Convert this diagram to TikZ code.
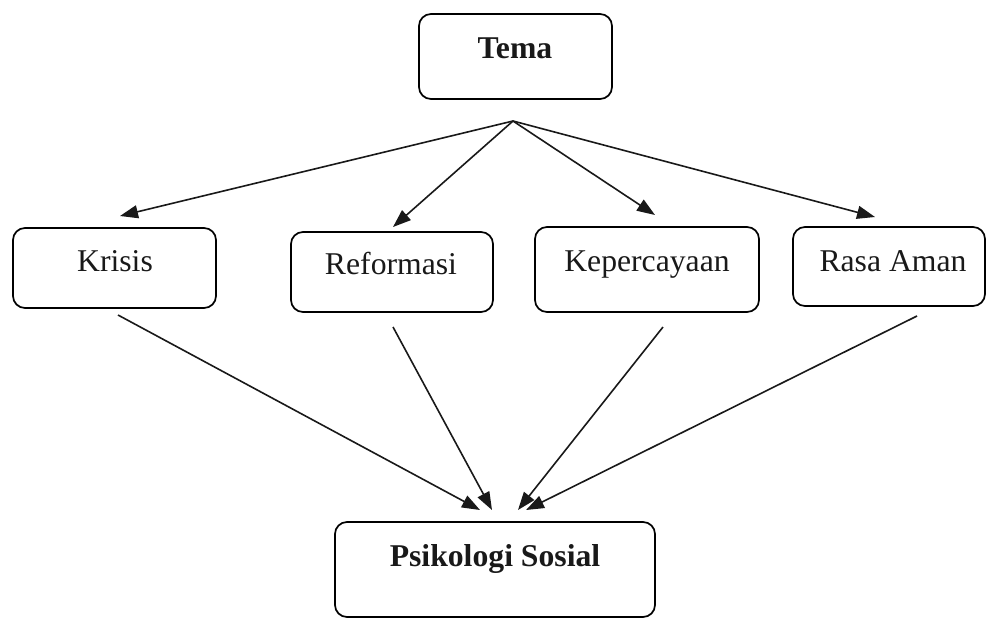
\documentclass[tikz,border=0pt]{standalone}
\usepackage{fontspec}
\setmainfont{Liberation Serif}
\usetikzlibrary{arrows.meta}
\tikzset{
  boxline/.style={draw=black, line width=1.7pt, rounded corners=12pt},
  lbl/.style={font=\fontsize{31.7pt}{38pt}\selectfont, inner sep=0pt, anchor=base, text=black!90},
  blbl/.style={lbl, font=\fontsize{31.7pt}{38pt}\selectfont\bfseries},
  conn/.style={draw=black!90, line width=1.6pt, -{Triangle[length=18pt,width=13pt]}}
}
\begin{document}
\begin{tikzpicture}[x=1pt,y=-1pt]
\useasboundingbox (0,0) rectangle (988,619);
% boxes
\draw[boxline] (419,14) rectangle (612,99);
\draw[boxline] (13,228) rectangle (216,308);
\draw[boxline] (291,232) rectangle (493,312);
\draw[boxline] (535,227) rectangle (759,312);
\draw[boxline] (793,227) rectangle (985,306);
\draw[boxline] (335,522) rectangle (655,617);
% labels (positioned by baseline)
\node[blbl] (tema) at (515,58) {Tema};
\node[lbl] (krisis) at (115,271) {Krisis};
\node[lbl] (reformasi) at (391,274) {Reformasi};
\node[lbl] (kepercayaan) at (647,271) {Kepercayaan};
\node[lbl] (rasaaman) at (893,271) {Rasa Aman};
\node[blbl] (psikologi) at (495,566) {Psikologi Sosial};
% connector points
\coordinate (apex) at (513,121);
\coordinate (tk) at (120,216);
\coordinate (tr) at (393,227);
\coordinate (tp) at (655,215);
\coordinate (ta) at (875,217);
\coordinate (sk) at (118,315);
\coordinate (sr) at (393,327);
\coordinate (sp) at (663,327);
\coordinate (sa) at (917,316);
\coordinate (ek) at (480,510);
\coordinate (er) at (492,510);
\coordinate (ep) at (518,510);
\coordinate (ea) at (526,510);
% arrows
\draw[conn] (apex) -- (tk);
\draw[conn] (apex) -- (tr);
\draw[conn] (apex) -- (tp);
\draw[conn] (apex) -- (ta);
\draw[conn] (sk) -- (ek);
\draw[conn] (sr) -- (er);
\draw[conn] (sp) -- (ep);
\draw[conn] (sa) -- (ea);
\end{tikzpicture}
\end{document}
